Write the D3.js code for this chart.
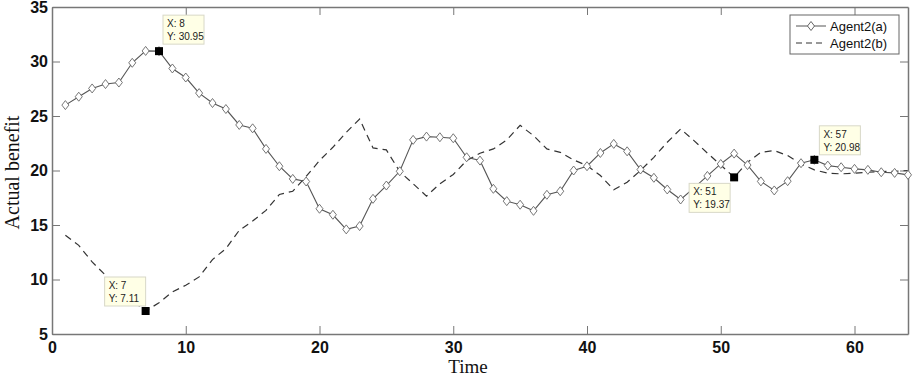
<!DOCTYPE html>
<html lang="en">
<head>
<meta charset="UTF-8">
<title>Actual benefit</title>
<style>
  body { margin: 0; background: #fff; }
  .axis text { font-family: "Liberation Sans", Arial, sans-serif; font-weight: bold; font-size: 16px; fill: #111; }
  .axis path, .axis line { stroke: #777; }
  .title { font-family: "Liberation Serif", "Times New Roman", serif; font-size: 20px; fill: #111; }
  .tip text { font-family: "Liberation Sans", Arial, sans-serif; font-size: 10px; fill: #222; }
  .legend text { font-family: "Liberation Sans", Arial, sans-serif; font-size: 13px; fill: #111; }
</style>
</head>
<body>
<svg width="913" height="378"></svg>
<script src="https://d3js.org/d3.v7.min.js"></script>
<script>

// time steps
const time = [1,2,3,4,5,6,7,8,9,10,11,12,13,14,15,16,17,18,19,20,21,22,23,24,25,26,27,28,29,30,31,32,
              33,34,35,36,37,38,39,40,41,42,43,44,45,46,47,48,49,50,51,52,53,54,55,56,57,58,59,60,61,62,63,64];

const agentA = [26.0,26.77,27.53,27.93,28.07,29.88,30.97,30.95,29.36,28.53,27.1,26.19,25.64,24.18,23.87,21.98,
                20.39,19.23,18.99,16.49,15.94,14.6,14.9,17.4,18.62,19.93,22.81,23.11,23.05,22.96,21.21,20.91,
                18.32,17.19,16.86,16.3,17.77,18.1,20.0,20.39,21.61,22.44,21.76,20.09,19.33,18.26,17.34,18.4,
                19.5,20.6,21.55,20.5,19.0,18.17,19.02,20.67,20.98,20.45,20.3,20.15,20.06,19.84,19.78,19.6];

const agentB = [14.05,13.13,11.61,10.39,9.2,8.1,7.11,7.86,8.86,9.47,10.24,11.83,12.83,14.51,15.36,16.34,
                17.8,18.1,19.45,20.91,22.13,23.5,24.72,22.07,21.89,19.9,18.78,17.65,18.78,19.63,20.91,21.58,
                21.98,22.8,24.14,23.2,21.98,21.67,20.97,20.45,19.54,18.23,18.93,20.0,21.21,22.59,23.81,22.74,
                21.6,20.5,19.37,20.76,21.67,21.83,21.37,20.6,20.06,19.75,19.69,19.75,19.84,19.9,19.93,20.0];

const seriesNames = ["Agent2(a)", "Agent2(b)"];

// data tips: [time, series index]
const tips = [[8, 0], [7, 1], [51, 1], [57, 0]];

const xTicks = [0, 10, 20, 30, 40, 50, 60];
const yTicks = [5, 10, 15, 20, 25, 30, 35];

const svg = d3.select("svg");
const margin = { top: 7, right: 5, bottom: 44, left: 52 };
const width = 913 - margin.left - margin.right;
const height = 378 - margin.top - margin.bottom;

const x = d3.scaleLinear().domain([0, 64]).range([0, width]);
const y = d3.scaleLinear().domain([5, 35]).range([height, 0]);

const g = svg.append("g").attr("transform", `translate(${margin.left},${margin.top})`);

// axes with inward ticks, box all round
g.append("g").attr("class", "axis")
  .attr("transform", `translate(0,${height})`)
  .call(d3.axisBottom(x).tickValues(xTicks).tickSizeInner(-8).tickSizeOuter(0).tickPadding(8));
g.append("g").attr("class", "axis")
  .call(d3.axisTop(x).tickValues(xTicks).tickSizeInner(-8).tickSizeOuter(0).tickFormat(""));
g.append("g").attr("class", "axis")
  .call(d3.axisLeft(y).tickValues(yTicks).tickSizeInner(-8).tickSizeOuter(0).tickPadding(4));
g.append("g").attr("class", "axis")
  .attr("transform", `translate(${width},0)`)
  .call(d3.axisRight(y).tickValues(yTicks).tickSizeInner(-8).tickSizeOuter(0).tickFormat(""));
g.selectAll(".axis path").attr("stroke-width", 1.5);

const series = [agentA, agentB];
const line = d3.line().x((d, i) => x(time[i])).y(d => y(d));

g.append("path").datum(agentB)
  .attr("d", line)
  .attr("fill", "none")
  .attr("stroke", "#333")
  .attr("stroke-width", 1.2)
  .attr("stroke-dasharray", "7,5");

g.append("path").datum(agentA)
  .attr("d", line)
  .attr("fill", "none")
  .attr("stroke", "#555")
  .attr("stroke-width", 1.1);

// matlab-style diamond, slightly taller than wide
const matDiamond = {
  draw(ctx, size) {
    const h = Math.sqrt(size) * 0.75, w = h * 0.78;
    ctx.moveTo(0, -h); ctx.lineTo(w, 0); ctx.lineTo(0, h); ctx.lineTo(-w, 0); ctx.closePath();
  }
};
const diamond = d3.symbol().type(matDiamond).size(36);
g.selectAll(".mk").data(agentA).join("path")
  .attr("class", "mk")
  .attr("transform", (d, i) => `translate(${x(time[i])},${y(d)})`)
  .attr("d", diamond)
  .attr("fill", "#fff")
  .attr("stroke", "#666")
  .attr("stroke-width", 0.9);

// data tips
const tipPlace = { 8: [4, -36], 7: [-41, -34], 51: [-45, 6], 57: [5, -34] };
tips.forEach(([t, s]) => {
  const v = series[s][time.indexOf(t)];
  const px = x(t), py = y(v);
  const [dx, dy] = tipPlace[t];
  const tg = g.append("g").attr("class", "tip");
  tg.append("rect")
    .attr("x", px + dx).attr("y", py + dy)
    .attr("width", 41).attr("height", 29)
    .attr("fill", "#ffffe6").attr("stroke", "#d8d8c8");
  tg.append("text").attr("x", px + dx + 4).attr("y", py + dy + 12).text(`X: ${t}`);
  tg.append("text").attr("x", px + dx + 4).attr("y", py + dy + 25).text(`Y: ${v.toFixed(2)}`);
  g.append("rect")
    .attr("x", px - 4).attr("y", py - 4)
    .attr("width", 8).attr("height", 8)
    .attr("fill", "#000");
});

// legend
const lg = g.append("g").attr("class", "legend")
  .attr("transform", `translate(${width - 118},${8})`);
lg.append("rect").attr("width", 109).attr("height", 39)
  .attr("fill", "#fff").attr("stroke", "#666");
seriesNames.forEach((name, i) => {
  const ly = 11 + i * 17;
  lg.append("line").attr("x1", 6).attr("x2", 36).attr("y1", ly).attr("y2", ly)
    .attr("stroke", i === 0 ? "#555" : "#333")
    .attr("stroke-dasharray", i === 0 ? null : "6,4");
  if (i === 0) {
    lg.append("path").attr("transform", `translate(21,${ly})`).attr("d", diamond)
      .attr("fill", "#fff").attr("stroke", "#666");
  }
  lg.append("text").attr("x", 40).attr("y", ly + 5).text(name);
});

// axis titles
svg.append("text").attr("class", "title")
  .attr("x", margin.left + width / 2 - 12).attr("y", 373)
  .style("font-size", "19px")
  .attr("text-anchor", "middle").text("Time");
svg.append("text").attr("class", "title")
  .attr("transform", `translate(19,${margin.top + height / 2 + 2}) rotate(-90)`)
  .attr("text-anchor", "middle").text("Actual benefit");

</script>
</body>
</html>
